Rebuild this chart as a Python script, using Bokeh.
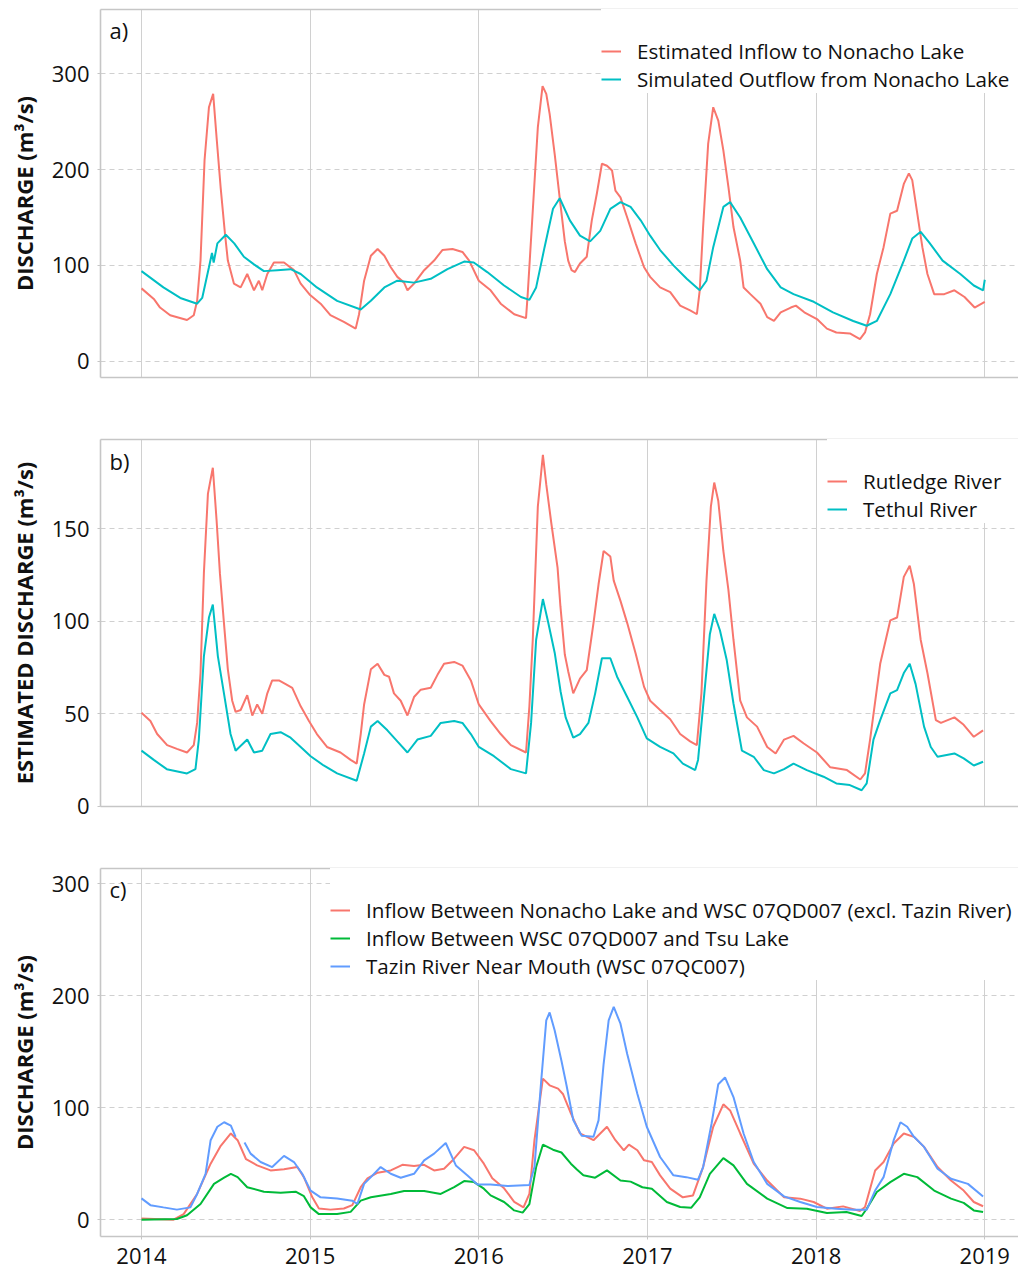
import math
from bokeh.plotting import figure
from bokeh.models import LinearAxis, FixedTicker, Legend, LegendItem, Label, Range1d, Grid
from bokeh.layouts import column
from bokeh.embed import file_html
from bokeh.resources import INLINE

NaN = float("nan")
YEAR0 = 2014
year_ticks = [2014, 2015, 2016, 2017, 2018, 2019]

# ---------------- Panel a (years since 2014, m3/s) ----------------
a_inflow = [(0.000, 76), (0.073, 65), (0.110, 56), (0.170, 48), (0.270, 43), (0.310, 48), (0.330, 63),
            (0.350, 105), (0.374, 210), (0.400, 265), (0.425, 279), (0.445, 234), (0.469, 182),
            (0.495, 133), (0.512, 105), (0.548, 81), (0.588, 77), (0.627, 91), (0.667, 74), (0.696, 84),
            (0.716, 74), (0.746, 91), (0.785, 103), (0.845, 103), (0.904, 95), (0.944, 81), (1.000, 69),
            (1.062, 60), (1.120, 48), (1.200, 41), (1.270, 34), (1.290, 49), (1.320, 84), (1.360, 110),
            (1.400, 117), (1.440, 110), (1.478, 98), (1.517, 88), (1.557, 82), (1.577, 74), (1.616, 81),
            (1.676, 95), (1.735, 105), (1.784, 116), (1.844, 117), (1.903, 114), (1.943, 105), (2.000, 84),
            (2.070, 74), (2.130, 60), (2.210, 49), (2.280, 45), (2.290, 70), (2.320, 157), (2.350, 244),
            (2.378, 287), (2.400, 279), (2.420, 258), (2.450, 216), (2.480, 170), (2.510, 125), (2.530, 105),
            (2.550, 95), (2.570, 93), (2.600, 102), (2.640, 109), (2.670, 147), (2.700, 175), (2.730, 206),
            (2.760, 204), (2.790, 199), (2.810, 178), (2.840, 171), (2.880, 150), (2.930, 123), (2.980, 98),
            (3.016, 88), (3.075, 77), (3.135, 72), (3.194, 58), (3.253, 53), (3.293, 49), (3.310, 74),
            (3.330, 140), (3.360, 227), (3.390, 265), (3.420, 251), (3.450, 220), (3.480, 182), (3.510, 140),
            (3.550, 105), (3.570, 77), (3.610, 70), (3.670, 60), (3.710, 46), (3.750, 42), (3.790, 51),
            (3.850, 56), (3.880, 58), (3.930, 51), (4.005, 44), (4.064, 34), (4.120, 30), (4.200, 29),
            (4.260, 23), (4.290, 30), (4.320, 49), (4.360, 91), (4.400, 119), (4.440, 154), (4.480, 157),
            (4.520, 185), (4.550, 196), (4.570, 189), (4.600, 154), (4.630, 119), (4.660, 91), (4.700, 70),
            (4.760, 70), (4.820, 74), (4.880, 67), (4.940, 56), (5.000, 62)]
a_outflow = [(0.000, 94), (0.130, 77), (0.230, 66), (0.330, 60), (0.360, 66), (0.400, 98), (0.418, 113),
             (0.428, 103), (0.450, 123), (0.500, 132), (0.550, 123), (0.607, 109), (0.667, 101), (0.726, 94),
             (0.805, 95), (0.884, 96), (0.944, 91), (1.040, 77), (1.160, 63), (1.300, 54), (1.360, 63),
             (1.440, 77), (1.517, 84), (1.616, 82), (1.715, 86), (1.814, 96), (1.913, 104), (1.970, 103),
             (2.050, 93), (2.150, 79), (2.250, 67), (2.300, 64), (2.340, 77), (2.390, 119), (2.440, 159),
             (2.480, 170), (2.540, 147), (2.600, 131), (2.660, 125), (2.720, 136), (2.780, 159), (2.840, 166),
             (2.900, 161), (2.960, 147), (3.016, 131), (3.075, 116), (3.154, 100), (3.233, 86), (3.310, 74),
             (3.350, 84), (3.390, 119), (3.450, 161), (3.490, 166), (3.550, 150), (3.630, 123), (3.710, 96),
             (3.790, 77), (3.866, 70), (3.986, 62), (4.100, 51), (4.220, 42), (4.300, 37), (4.360, 42),
             (4.440, 70), (4.520, 105), (4.570, 128), (4.620, 135), (4.670, 124), (4.750, 105), (4.855, 91),
             (4.935, 79), (4.990, 74), (5.000, 85)]

# ---------------- Panel b ----------------
b_rutledge = [(0.000, 50.5), (0.053, 46), (0.093, 39), (0.152, 33), (0.210, 31), (0.270, 29), (0.310, 33),
              (0.330, 45), (0.350, 72), (0.370, 126), (0.394, 169), (0.423, 183), (0.445, 155), (0.465, 126),
              (0.489, 99), (0.512, 74), (0.538, 57), (0.558, 51), (0.588, 52), (0.627, 60), (0.657, 49),
              (0.686, 55), (0.716, 50), (0.746, 61), (0.775, 68), (0.815, 68), (0.855, 66), (0.894, 64),
              (0.944, 54), (0.993, 46), (1.040, 39), (1.100, 32), (1.180, 29), (1.240, 25), (1.276, 23),
              (1.300, 39), (1.320, 55), (1.360, 74), (1.400, 77), (1.440, 71), (1.468, 70), (1.497, 61),
              (1.537, 57), (1.577, 49), (1.616, 59), (1.656, 63), (1.715, 64), (1.755, 71), (1.794, 77),
              (1.854, 78), (1.903, 76), (1.953, 68), (2.000, 55), (2.070, 46), (2.130, 39), (2.190, 33),
              (2.280, 29), (2.300, 54), (2.320, 90), (2.350, 162), (2.380, 190), (2.400, 174), (2.430, 153),
              (2.467, 129), (2.484, 108), (2.510, 82), (2.530, 73), (2.560, 61), (2.600, 69), (2.640, 73.5),
              (2.680, 99), (2.710, 120), (2.740, 138), (2.780, 135), (2.800, 122), (2.840, 111), (2.880, 99),
              (2.930, 82.5), (2.980, 64.5), (3.016, 57), (3.075, 52), (3.135, 47), (3.194, 39), (3.253, 35),
              (3.293, 33), (3.320, 61), (3.350, 122), (3.376, 162), (3.396, 175), (3.420, 165), (3.450, 138),
              (3.480, 117), (3.510, 90), (3.550, 57), (3.590, 48), (3.650, 43), (3.710, 32), (3.760, 28.5),
              (3.810, 36), (3.866, 38), (3.925, 34), (4.005, 29), (4.084, 21), (4.183, 19.5), (4.262, 14.4),
              (4.290, 17.7), (4.320, 36), (4.380, 77), (4.440, 100.5), (4.480, 102), (4.520, 124), (4.555, 130),
              (4.580, 120), (4.620, 90), (4.660, 72), (4.710, 46.5), (4.740, 45), (4.820, 48), (4.875, 44),
              (4.935, 37.5), (4.990, 41)]
b_tethul = [(0.000, 30), (0.073, 25), (0.150, 20), (0.270, 17.7), (0.320, 20), (0.340, 36), (0.370, 81),
            (0.400, 102), (0.423, 109), (0.453, 81), (0.489, 61), (0.528, 39), (0.558, 30), (0.627, 36),
            (0.667, 29), (0.716, 30), (0.765, 39), (0.825, 40), (0.884, 37), (0.944, 32), (1.003, 27),
            (1.080, 22), (1.160, 17.7), (1.276, 13.7), (1.320, 28.5), (1.360, 43), (1.400, 46), (1.458, 41),
            (1.517, 35), (1.577, 29), (1.636, 36), (1.715, 38), (1.774, 45), (1.854, 46), (1.903, 45),
            (1.953, 39), (2.000, 32), (2.090, 27), (2.190, 20), (2.280, 17.7), (2.310, 45), (2.340, 90),
            (2.380, 112), (2.410, 100), (2.450, 83), (2.485, 62), (2.515, 48), (2.560, 37), (2.600, 39),
            (2.650, 45), (2.690, 61), (2.730, 80), (2.780, 80), (2.820, 70), (2.880, 59), (2.940, 48),
            (2.996, 36.6), (3.075, 32), (3.154, 28.5), (3.210, 23), (3.283, 19.5), (3.300, 25), (3.330, 54),
            (3.370, 93), (3.396, 104), (3.430, 95), (3.470, 79), (3.510, 55.5), (3.560, 30), (3.630, 26.7),
            (3.690, 19.5), (3.750, 17.7), (3.810, 20), (3.866, 23), (3.945, 19.5), (4.044, 15.9), (4.120, 12.3),
            (4.200, 11.4), (4.270, 8.6), (4.300, 12.3), (4.340, 36), (4.380, 46.5), (4.440, 61), (4.480, 62.7),
            (4.520, 72), (4.555, 77), (4.590, 66), (4.640, 43), (4.680, 32), (4.720, 26.7), (4.820, 28.5),
            (4.875, 25.8), (4.935, 22), (4.990, 24)]

# ---------------- Panel c ----------------
c_nonacho_07qd007 = [(0.000, 1), (0.190, 0), (0.250, 5), (0.330, 23), (0.410, 50), (0.470, 66), (0.530, 77),
                     (0.570, 71), (0.620, 54), (0.686, 48.5), (0.765, 44), (0.845, 45), (0.924, 47), (0.963, 38),
                     (1.013, 20), (1.052, 10), (1.120, 9), (1.200, 10), (1.250, 13), (1.300, 29), (1.340, 37),
                     (1.400, 42), (1.478, 44), (1.547, 49), (1.616, 48), (1.676, 49), (1.735, 44), (1.794, 45.5),
                     (1.854, 54.5), (1.913, 65), (1.972, 62), (2.030, 50), (2.080, 37), (2.150, 28), (2.210, 16),
                     (2.265, 11), (2.300, 23), (2.330, 71), (2.380, 126), (2.420, 120), (2.470, 117), (2.500, 112),
                     (2.546, 95), (2.600, 77), (2.680, 71), (2.760, 83), (2.810, 71), (2.860, 62), (2.890, 67),
                     (2.940, 62), (2.980, 53), (3.026, 51.5), (3.075, 39.6), (3.135, 27.7), (3.210, 20),
                     (3.270, 21.7), (3.330, 47), (3.390, 83), (3.450, 103), (3.490, 97.6), (3.550, 77),
                     (3.630, 50), (3.710, 35), (3.810, 20), (3.906, 18.8), (3.985, 15.8), (4.064, 9.8),
                     (4.160, 11.9), (4.260, 7.7), (4.290, 11.3), (4.350, 44), (4.400, 51.5), (4.460, 68),
                     (4.520, 77), (4.580, 74), (4.640, 65), (4.720, 47), (4.800, 35), (4.875, 26), (4.935, 15.8),
                     (4.990, 12)]
c_07qd007_tsu = [(0.000, 0), (0.210, 0.6), (0.270, 4), (0.350, 14), (0.430, 32), (0.490, 37.5), (0.530, 41),
                 (0.570, 38), (0.627, 29), (0.726, 25), (0.825, 24), (0.914, 25), (0.963, 21), (1.003, 11),
                 (1.052, 5), (1.160, 5), (1.240, 7), (1.300, 17), (1.360, 20), (1.478, 23), (1.557, 25.6),
                 (1.676, 25.6), (1.774, 23), (1.854, 29), (1.913, 34.5), (1.972, 33.6), (2.030, 27.7),
                 (2.070, 21.7), (2.150, 15.8), (2.210, 8.3), (2.260, 6.3), (2.300, 14), (2.340, 47), (2.380, 67),
                 (2.440, 62.5), (2.490, 60), (2.546, 50), (2.580, 45), (2.620, 39.6), (2.690, 37.5), (2.760, 44),
                 (2.840, 35), (2.900, 34), (2.970, 29), (3.026, 27.7), (3.115, 15.8), (3.194, 11.3), (3.260, 10.7),
                 (3.310, 20), (3.370, 41), (3.450, 55), (3.510, 48.5), (3.590, 32), (3.710, 18.8), (3.830, 10.4),
                 (3.945, 9.8), (4.064, 6), (4.180, 6.8), (4.270, 3.3), (4.300, 9.8), (4.360, 24.7), (4.440, 33.6),
                 (4.520, 41), (4.600, 38), (4.700, 26), (4.800, 18.8), (4.875, 15), (4.935, 8.3), (4.990, 6.8)]
c_tazin = [(0.000, 19), (0.053, 13), (0.130, 11), (0.210, 9), (0.290, 11), (0.330, 23), (0.380, 41),
           (0.410, 71), (0.450, 83), (0.490, 87), (0.530, 84), (0.558, 74), (0.585, NaN), (0.611, 69),
           (0.647, 59), (0.706, 51.5), (0.775, 47), (0.845, 57), (0.904, 51.5), (0.953, 41), (1.003, 26),
           (1.062, 20), (1.160, 19), (1.250, 17), (1.280, 14), (1.320, 32), (1.360, 38), (1.418, 47),
           (1.478, 41), (1.537, 37.5), (1.616, 41), (1.676, 53), (1.735, 59), (1.804, 68.5), (1.864, 48.5),
           (1.933, 39.5), (1.992, 31.5), (2.070, 31.5), (2.170, 30), (2.300, 31), (2.330, 47), (2.370, 124),
           (2.400, 178), (2.420, 185), (2.450, 169), (2.490, 142), (2.520, 120), (2.560, 89), (2.610, 75),
           (2.680, 74), (2.710, 88.7), (2.740, 139), (2.770, 178), (2.800, 190), (2.840, 175), (2.880, 148),
           (2.940, 112.5), (2.996, 83), (3.075, 56), (3.154, 39.6), (3.230, 38), (3.300, 35.7), (3.330, 47),
           (3.380, 85.7), (3.420, 121), (3.460, 127), (3.510, 109.5), (3.570, 77), (3.630, 51.5), (3.710, 32),
           (3.810, 20.8), (3.906, 15.8), (4.005, 11.3), (4.120, 9.8), (4.220, 8.9), (4.300, 8.9), (4.350, 26),
           (4.400, 38), (4.460, 71), (4.500, 87), (4.540, 83), (4.580, 74), (4.640, 65), (4.720, 45.5),
           (4.800, 36.6), (4.900, 32), (4.990, 20.8)]

# ---------------- styling ----------------
FONT = "Open Sans"
RED = "#F8766D"
TEAL = "#00BFC4"
GREEN = "#00BA38"
BLUE = "#619CFF"
GRID = "#d0d0d0"
BORDER = "#c6c6c6"
X0, X1 = 2013.757, 2019.200


def xs(series):
    return [YEAR0 + t for t, _ in series]


def ys(series):
    return [v for _, v in series]


def border_axis(**kw):
    return LinearAxis(ticker=FixedTicker(ticks=[]), axis_line_color=BORDER, axis_line_width=1.6,
                      major_tick_line_color=None, minor_tick_line_color=None,
                      major_label_standoff=0, **kw)


def make_panel(height, top, bottom, yrange, yticks, ylabel, show_x):
    p = figure(width=1018, height=height, output_backend="svg", toolbar_location=None,
               x_range=Range1d(X0, X1), y_range=Range1d(*yrange),
               x_axis_location="below" if show_x else None,
               min_border_left=100, min_border_right=0, min_border_top=top, min_border_bottom=bottom,
               background_fill_color="white", border_fill_color="white", outline_line_color=None)
    xt = FixedTicker(ticks=year_ticks)
    yt = FixedTicker(ticks=yticks)
    p.yaxis.ticker = yt
    p.ygrid.ticker = yt
    p.ygrid.grid_line_color = GRID
    p.ygrid.grid_line_dash = "5 4"
    p.ygrid.grid_line_width = 1
    if show_x:
        p.xaxis.ticker = xt
        p.xgrid.ticker = xt
        p.xgrid.grid_line_color = GRID
        p.xgrid.grid_line_width = 1
        axes = (p.xaxis[0], p.yaxis[0])
    else:
        p.add_layout(Grid(dimension=0, ticker=xt, grid_line_color=GRID, grid_line_width=1))
        p.add_layout(border_axis(), "below")
        axes = (p.yaxis[0],)
    for ax in axes:
        ax.axis_line_color = BORDER
        ax.axis_line_width = 1.6
        ax.major_tick_line_color = BORDER
        ax.major_tick_in = 0
        ax.major_tick_out = 3
        ax.minor_tick_line_color = None
        ax.major_label_text_font = FONT
        ax.major_label_text_font_size = "22px"
        ax.major_label_text_color = "#111111"
    p.yaxis.major_label_standoff = 8
    p.yaxis.axis_label = ylabel
    p.yaxis.axis_label_text_font = FONT
    p.yaxis.axis_label_text_font_style = "bold"
    p.yaxis.axis_label_text_font_size = "22px"
    p.yaxis.axis_label_text_color = "#111111"
    p.yaxis.axis_label_standoff = 10
    if show_x:
        p.xaxis.major_label_standoff = 8
    p.add_layout(border_axis(), "above")
    return p


def add_legend(p, items, label_width):
    leg = Legend(items=items, location="top_right", title=" ", title_text_font_size="19px",
                 title_standoff=6, label_text_font=FONT, label_text_font_size="20.6px",
                 label_text_color="#111111", glyph_width=20, glyph_height=26, label_height=26,
                 label_width=label_width, label_standoff=16, spacing=0, padding=12, margin=0,
                 border_line_color=None, background_fill_color="white", background_fill_alpha=1.0)
    p.add_layout(leg)


def panel_label(p, text, y):
    p.add_layout(Label(x=2013.81, y=y, text=text, text_font=FONT, text_font_size="22px",
                       text_baseline="top", text_align="left", text_color="#111111"))


# Panel a
pa = make_panel(393, 9, 16, (-17, 367), [0, 100, 200, 300], "DISCHARGE (m³/s)", False)
ra1 = pa.line(xs(a_inflow), ys(a_inflow), line_color=RED, line_width=2)
ra2 = pa.line(xs(a_outflow), ys(a_outflow), line_color=TEAL, line_width=2)
add_legend(pa, [LegendItem(label="Estimated Inflow to Nonacho Lake", renderers=[ra1]),
                LegendItem(label="Simulated Outflow from Nonacho Lake", renderers=[ra2])], 381)
panel_label(pa, "a)", 361.5)

# Panel b
pb = make_panel(429, 46, 16, (-0.2, 198.3), [0, 50, 100, 150], "ESTIMATED DISCHARGE (m³/s)", False)
rb1 = pb.line(xs(b_rutledge), ys(b_rutledge), line_color=RED, line_width=2)
rb2 = pb.line(xs(b_tethul), ys(b_tethul), line_color=TEAL, line_width=2)
add_legend(pb, [LegendItem(label="Rutledge River", renderers=[rb1]),
                LegendItem(label="Tethul River", renderers=[rb2])], 155)
panel_label(pb, "b)", 195.0)

# Panel c
pc = make_panel(446, 46, 32, (-15, 313.6), [0, 100, 200, 300], "DISCHARGE (m³/s)", True)
rc1 = pc.line(xs(c_nonacho_07qd007), ys(c_nonacho_07qd007), line_color=RED, line_width=2)
rc2 = pc.line(xs(c_07qd007_tsu), ys(c_07qd007_tsu), line_color=GREEN, line_width=2)
rc3 = pc.line(xs(c_tazin), ys(c_tazin), line_color=BLUE, line_width=2)
add_legend(pc, [LegendItem(label="Inflow Between Nonacho Lake and WSC 07QD007 (excl. Tazin River)", renderers=[rc1]),
                LegendItem(label="Inflow Between WSC 07QD007 and Tsu Lake", renderers=[rc2]),
                LegendItem(label="Tazin River Near Mouth (WSC 07QC007)", renderers=[rc3])], 652)
panel_label(pc, "c)", 309.0)

layout = column(pa, pb, pc, spacing=0)
open("out.html", "w").write(file_html(layout, INLINE))
